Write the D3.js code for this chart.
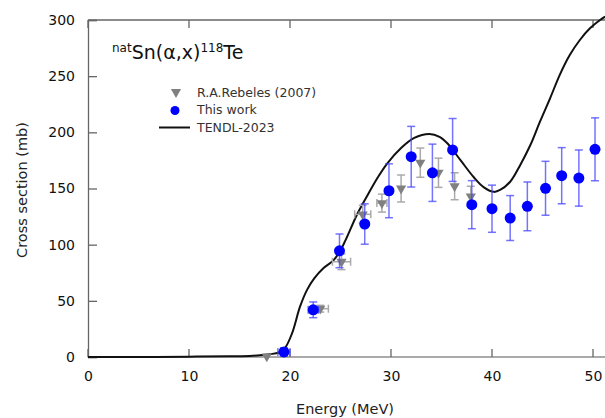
<!DOCTYPE html>
<html>
<head>
<meta charset="utf-8">
<script src="https://cdn.jsdelivr.net/npm/d3@7"></script>
<style>
  html, body { margin: 0; padding: 0; background: #fff; overflow: hidden; }
  svg { display: block; font-family: "DejaVu Sans", sans-serif; }
</style>
</head>
<body>
<div id="chart"></div>
<script>
// TENDL-2023 excitation curve
const tendlE = [0, 5, 10, 14, 16, 17, 18, 18.9, 19.5, 20.2, 21, 21.7, 22.4, 23.3, 24.3, 25, 25.5, 26.7, 27.8, 28.7, 29.6, 31, 32.3, 33.8, 34.8, 35.6, 36.9, 38.2, 39.2, 40.2, 40.8, 41.8, 42.8, 43.8, 44.75, 45.75, 46.7, 47.7, 48.7, 49.7, 50.7, 51.2];
const tendlS = [0, 0, 0.3, 0.6, 1, 1.5, 2.5, 4, 8, 21, 45, 60, 70, 79, 86, 95, 104, 128, 146, 160, 172, 186, 195, 198.5, 196, 190, 175, 160, 151, 147, 148.7, 156, 171, 188.7, 209.5, 230.3, 251, 268.8, 282.2, 292.6, 300, 303];

// This work
const workE    = [19.4, 22.3, 24.9, 27.4, 29.8, 32.0, 34.1, 36.1, 38.0, 40.0, 41.8, 43.5, 45.3, 46.9, 48.6, 50.2];
const workS    = [4.5, 42, 94.5, 118.4, 148, 178.3, 164, 184.3, 135.6, 132, 123.7, 134.1, 150.2, 161.4, 159.3, 184.9];
const workErr  = [3.7, 7, 15, 18, 24, 27, 25.5, 28, 21.4, 21, 20, 21.7, 24, 25, 25, 28];
const workEErr = [0.6, 0.5, 0, 0, 0, 0, 0, 0, 0, 0, 0, 0, 0, 0, 0, 0];

// R.A.Rebeles (2007)
const rebE    = [17.7, 23.0, 25.1, 27.2, 29.1, 31.0, 32.9, 34.7, 36.3, 37.9];
const rebS    = [0.5, 43, 84.8, 127, 137, 150, 173, 164, 152, 143];
const rebErr  = [0, 3, 7, 8, 8, 12, 13, 13, 12, 9];
const rebEErr = [0, 0.8, 0.9, 0.8, 0.5, 0, 0, 0, 0, 0];

const xTicks = [0, 10, 20, 30, 40, 50];
const yTicks = [0, 50, 100, 150, 200, 250, 300];

const W = 605, H = 418;
const svg = d3.select('#chart').append('svg').attr('width', W).attr('height', H);

const x = d3.scaleLinear().domain([0, 50]).range([88, 593]);
const y = d3.scaleLinear().domain([0, 300]).range([357, 20]);

const AX = '#666';

// bottom axis (light line, dark inward ticks)
svg.append('line').attr('x1', 88).attr('x2', W).attr('y1', y(0)).attr('y2', y(0))
  .attr('stroke', '#aaa').attr('stroke-width', 2);
const bx = svg.append('g').attr('transform', `translate(0,${y(0)})`)
  .call(d3.axisBottom(x).tickValues(xTicks).tickSize(0).tickPadding(14).tickFormat(d3.format('d')));
bx.select('.domain').remove();
bx.selectAll('text').attr('font-size', 14).attr('fill', '#111').attr('font-family', '"DejaVu Sans", sans-serif');
svg.append('g').selectAll('line').data(xTicks).join('line')
  .attr('x1', d => x(d)).attr('x2', d => x(d)).attr('y1', y(0)).attr('y2', y(0) - 8)
  .attr('stroke', AX).attr('stroke-width', 1.3);

// top border with ticks
svg.append('line').attr('x1', 88).attr('x2', W).attr('y1', y(300)).attr('y2', y(300))
  .attr('stroke', AX).attr('stroke-width', 1.3);
svg.append('g').selectAll('line').data(xTicks).join('line')
  .attr('x1', d => x(d)).attr('x2', d => x(d)).attr('y1', y(300)).attr('y2', y(300) + 8)
  .attr('stroke', AX).attr('stroke-width', 1.3);

// left axis
const ly = svg.append('g').attr('transform', 'translate(88,0)')
  .call(d3.axisLeft(y).tickValues(yTicks).tickSize(-9).tickPadding(13));
ly.select('.domain').attr('stroke', AX).attr('stroke-width', 1.3);
ly.selectAll('.tick line').attr('stroke', AX).attr('stroke-width', 1.3);
ly.selectAll('text').attr('font-size', 14).attr('fill', '#111').attr('font-family', '"DejaVu Sans", sans-serif');

// axis titles
svg.append('text').attr('x', 345).attr('y', 414).attr('text-anchor', 'middle')
  .attr('font-size', 14.5).attr('fill', '#222').text('Energy (MeV)');
svg.append('text').attr('transform', 'translate(27,190) rotate(-90)').attr('text-anchor', 'middle')
  .attr('font-size', 14.5).attr('fill', '#222').text('Cross section (mb)');

// TENDL curve
const tendl = tendlE.map((e, i) => [e, tendlS[i]]);
svg.append('path').datum(tendl)
  .attr('d', d3.line().x(d => x(d[0])).y(d => y(d[1])).curve(d3.curveCatmullRom.alpha(0.5)))
  .attr('fill', 'none').attr('stroke', '#111').attr('stroke-width', 2);

// error bar helper
function errBars(g, data, color, cap, width) {
  data.forEach(d => {
    if (d.se > 0) {
      g.append('line').attr('x1', x(d.e)).attr('x2', x(d.e)).attr('y1', y(d.s - d.se)).attr('y2', y(d.s + d.se))
        .attr('stroke', color).attr('stroke-width', width);
      [d.s - d.se, d.s + d.se].forEach(v => g.append('line')
        .attr('x1', x(d.e) - cap).attr('x2', x(d.e) + cap).attr('y1', y(v)).attr('y2', y(v))
        .attr('stroke', color).attr('stroke-width', width));
    }
    if (d.ee > 0) {
      g.append('line').attr('x1', x(d.e - d.ee)).attr('x2', x(d.e + d.ee)).attr('y1', y(d.s)).attr('y2', y(d.s))
        .attr('stroke', color).attr('stroke-width', width);
      [d.e - d.ee, d.e + d.ee].forEach(v => g.append('line')
        .attr('x1', x(v)).attr('x2', x(v)).attr('y1', y(d.s) - cap).attr('y2', y(d.s) + cap)
        .attr('stroke', color).attr('stroke-width', width));
    }
  });
}

const tri = d3.symbol().type(d3.symbolTriangle).size(45);

// Rebeles data
const reb = rebE.map((e, i) => ({ e, s: rebS[i], se: rebErr[i], ee: rebEErr[i] }));
const gR = svg.append('g');
errBars(gR, reb, '#aaa', 4, 1.5);
gR.selectAll('path.reb').data(reb).join('path').attr('class', 'reb')
  .attr('d', tri).attr('transform', d => `translate(${x(d.e)},${y(d.s)}) rotate(180)`)
  .attr('fill', '#808080');

// This work
const work = workE.map((e, i) => ({ e, s: workS[i], se: workErr[i], ee: workEErr[i] }));
const gW = svg.append('g');
errBars(gW, work, 'rgba(70,70,255,0.75)', 4, 1.5);
gW.selectAll('circle').data(work).join('circle')
  .attr('cx', d => x(d.e)).attr('cy', d => y(d.s)).attr('r', 5.5).attr('fill', '#0000ff');

// title
const title = svg.append('text').attr('x', 112).attr('y', 59).attr('fill', '#111');
title.append('tspan').attr('font-size', 12).attr('dy', -7).text('nat');
title.append('tspan').attr('font-size', 19).attr('dy', 7).text('Sn(α,x)');
title.append('tspan').attr('font-size', 12).attr('dy', -7).text('118');
title.append('tspan').attr('font-size', 19).attr('dy', 7).text('Te');

// legend
const lg = svg.append('g').attr('font-size', 12.5).attr('fill', '#333');
lg.append('path').attr('d', tri).attr('transform', 'translate(176,92) rotate(180)').attr('fill', '#808080');
lg.append('text').attr('x', 197).attr('y', 97).text('R.A.Rebeles (2007)');
lg.append('circle').attr('cx', 175).attr('cy', 110.5).attr('r', 4.5).attr('fill', '#0000ff');
lg.append('text').attr('x', 197).attr('y', 114).text('This work');
lg.append('line').attr('x1', 159).attr('x2', 190).attr('y1', 127.5).attr('y2', 127.5).attr('stroke', '#111').attr('stroke-width', 2);
lg.append('text').attr('x', 197).attr('y', 132).text('TENDL-2023');
</script>
</body>
</html>
